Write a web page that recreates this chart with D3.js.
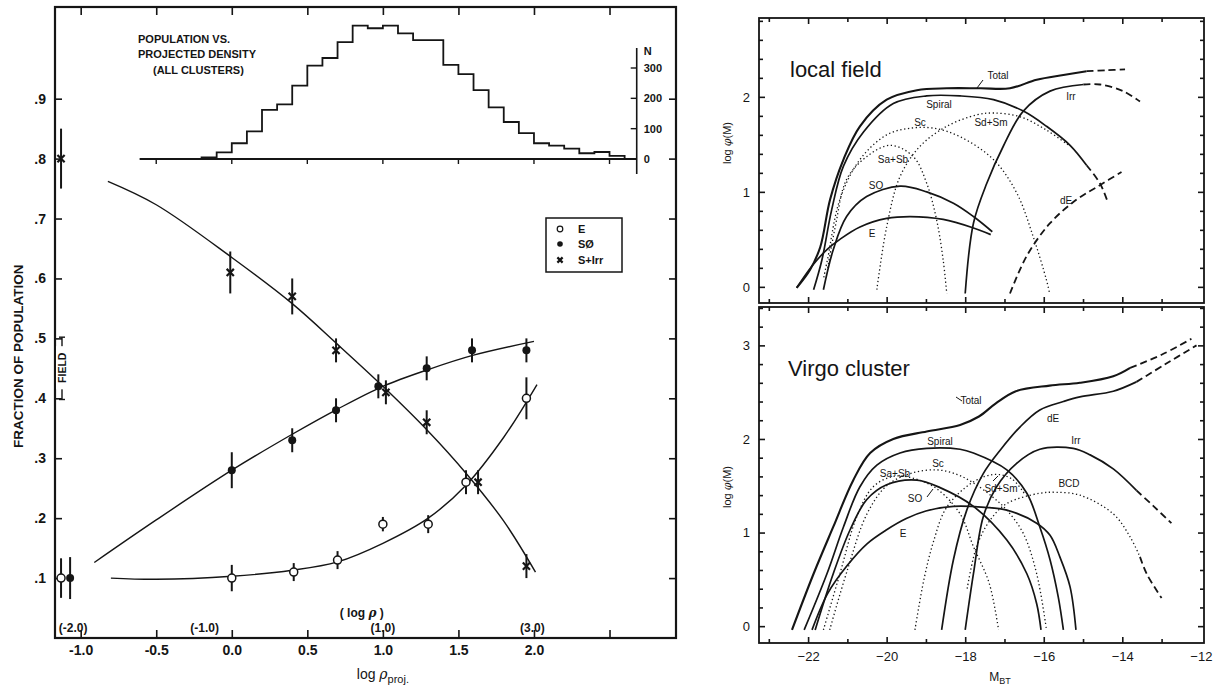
<!DOCTYPE html>
<html><head><meta charset="utf-8">
<script src="https://cdn.jsdelivr.net/npm/d3@7"></script>
<style>body{margin:0;background:#fff}svg{display:block}</style>
</head><body><svg id="c" width="1227" height="693"></svg>
<script>
// ---------------- LEFT CHART DATA ----------------
const xTickVals = [-1.0, -0.5, 0.0, 0.5, 1.0, 1.5, 2.0];
const yTickVals = [0.1, 0.2, 0.3, 0.4, 0.5, 0.6, 0.7, 0.8, 0.9];
const rhoLabels = [["(-2.0)", -1.05], ["(-1.0)", -0.18], ["(1.0)", 1.0], ["(3.0)", 1.99]];

const ptsE_x   = [-1.13, 0.0, 0.41, 0.70, 1.00, 1.30, 1.55, 1.95];
const ptsE_y   = [0.10, 0.10, 0.11, 0.13, 0.19, 0.19, 0.26, 0.40];
const ptsE_err = [0.033, 0.022, 0.015, 0.015, 0.012, 0.015, 0.02, 0.035];

const ptsS0_x   = [-1.07, 0.0, 0.40, 0.69, 0.97, 1.29, 1.59, 1.95];
const ptsS0_y   = [0.10, 0.28, 0.33, 0.38, 0.42, 0.45, 0.48, 0.48];
const ptsS0_err = [0.035, 0.03, 0.02, 0.02, 0.02, 0.02, 0.02, 0.02];

const ptsS_x   = [-1.13, -0.01, 0.40, 0.69, 1.02, 1.29, 1.63, 1.95];
const ptsS_y   = [0.80, 0.61, 0.57, 0.48, 0.41, 0.36, 0.26, 0.12];
const ptsS_err = [0.05, 0.035, 0.03, 0.02, 0.02, 0.02, 0.02, 0.02];

const fitS  = [[-0.82,0.762],[-0.5,0.723],[0,0.635],[0.4,0.558],[0.7,0.49],[1.0,0.42],[1.3,0.345],[1.55,0.275],[1.8,0.195],[2.01,0.11]];
const fitS0 = [[-0.91,0.126],[-0.5,0.197],[0,0.28],[0.4,0.34],[0.7,0.382],[1.0,0.42],[1.3,0.448],[1.6,0.472],[2.0,0.495]];
const fitE  = [[-0.8,0.10],[-0.5,0.098],[0,0.103],[0.4,0.113],[0.7,0.127],[1.0,0.158],[1.3,0.2],[1.55,0.255],[1.8,0.335],[2.02,0.423]];

const histStart = -0.2, histWidth = 0.1;
const histN = [5,22,52,91,162,180,242,308,333,385,440,431,440,414,392,392,310,280,227,170,122,85,52,44,34,19,23,10];
const histTicks = [0, 100, 200, 300];

// ---------------- RIGHT CHART DATA ----------------
const magTicks = [-22, -20, -18, -16, -14, -12];
const magMinor = [-23, -21, -19, -17, -15, -13];

const lfTotal = [[-22.29,-0.01],[-21.95,0.18],[-21.69,0.42],[-21.44,0.92],[-21.1,1.34],[-20.68,1.69],[-20.0,1.97],[-19.23,2.07],[-18.47,2.09],[-17.6,2.09],[-16.86,2.09],[-16.18,2.18],[-15.5,2.23],[-14.91,2.27]];
const lfTotalDash = [[-14.91,2.27],[-14.4,2.28],[-13.93,2.29]];
const lfSpiral = [[-21.86,-0.03],[-21.65,0.28],[-21.4,0.81],[-21.1,1.27],[-20.59,1.63],[-19.83,1.93],[-18.98,2.01],[-18.13,2.01],[-17.28,1.97],[-16.52,1.85],[-15.93,1.69],[-15.33,1.49],[-14.91,1.28]];
const lfSpiralDash = [[-14.91,1.28],[-14.57,1.09],[-14.36,0.88]];
const lfSc = [[-21.6,0.1],[-21.5,0.3],[-21.19,0.92],[-20.68,1.34],[-20.0,1.6],[-19.4,1.67],[-18.8,1.67],[-18.13,1.58],[-17.28,1.34],[-16.69,0.99],[-16.27,0.53],[-15.93,0.07],[-15.85,-0.07]];
const lfSaSb = [[-21.5,0.2],[-21.3,0.65],[-21.02,1.13],[-20.51,1.37],[-19.9,1.49],[-19.32,1.37],[-18.98,1.09],[-18.73,0.71],[-18.56,0.28],[-18.47,-0.07]];
const lfS0 = [[-21.61,-0.03],[-21.36,0.39],[-21.02,0.74],[-20.51,0.95],[-19.66,1.06],[-18.98,1.0],[-18.3,0.88],[-17.79,0.74],[-17.31,0.58]];
const lfE = [[-22.29,-0.01],[-21.9,0.22],[-21.5,0.4],[-21.19,0.5],[-20.68,0.63],[-20.0,0.72],[-19.4,0.74],[-18.56,0.71],[-17.79,0.62],[-17.35,0.55]];
const lfSdSm = [[-20.25,-0.03],[-20.0,0.63],[-19.66,1.16],[-19.15,1.48],[-18.47,1.69],[-17.71,1.81],[-17.28,1.83],[-16.6,1.79],[-15.93,1.65],[-15.33,1.48]];
const lfIrr = [[-18.0,-0.07],[-17.79,0.67],[-17.45,1.09],[-17.03,1.48],[-16.52,1.85],[-15.84,2.06],[-14.99,2.13]];
const lfIrrDash = [[-14.99,2.13],[-14.57,2.13],[-13.98,2.06],[-13.55,1.95]];
const lfdE = [[-16.86,-0.07],[-16.44,0.32],[-15.84,0.67],[-15.16,0.92],[-14.57,1.07],[-14.02,1.21]];

const vTotal = [[-22.41,-0.04],[-21.86,0.56],[-21.36,1.06],[-20.85,1.56],[-20.42,1.85],[-19.83,2.0],[-18.98,2.08],[-18.13,2.15],[-17.65,2.24],[-17.22,2.38],[-16.71,2.51],[-15.85,2.57],[-15.08,2.6],[-14.23,2.67],[-13.8,2.76]];
const vTotalDash = [[-13.8,2.76],[-13.0,2.9],[-12.24,3.07]];
const vSpiral = [[-22.1,-0.04],[-21.52,0.56],[-21.1,1.06],[-20.68,1.49],[-20.25,1.72],[-19.66,1.85],[-18.98,1.9],[-18.13,1.89],[-17.79,1.85],[-16.94,1.67],[-16.43,1.42],[-16.1,1.06],[-15.84,0.71],[-15.63,0.31],[-15.5,-0.04]];
const vSaSb = [[-21.61,-0.04],[-21.19,0.56],[-20.76,1.17],[-20.34,1.49],[-19.83,1.6],[-19.32,1.58],[-18.73,1.47],[-18.13,1.2],[-17.79,0.85],[-17.39,0.46],[-17.15,-0.04]];
const vSc = [[-21.45,-0.04],[-21.0,0.6],[-20.5,1.2],[-20.0,1.5],[-19.4,1.63],[-18.73,1.67],[-18.2,1.62],[-17.79,1.53],[-17.3,1.38],[-16.94,1.24],[-16.52,0.99],[-16.18,0.56],[-15.93,-0.04]];
const vS0 = [[-21.82,-0.04],[-21.36,0.56],[-20.93,1.03],[-20.51,1.35],[-20.0,1.51],[-19.23,1.56],[-18.64,1.48],[-17.79,1.28],[-16.94,0.92],[-16.43,0.56],[-16.18,0.24],[-16.07,-0.04]];
const vE = [[-21.9,-0.04],[-21.5,0.35],[-21.0,0.65],[-20.5,0.88],[-20.0,1.03],[-19.5,1.15],[-19.0,1.23],[-18.3,1.28],[-17.5,1.27],[-16.94,1.24],[-16.18,1.1],[-15.84,0.97],[-15.59,0.74],[-15.33,0.42],[-15.18,-0.04]];
const vSdSm = [[-19.28,-0.04],[-19.05,0.5],[-18.81,0.9],[-18.5,1.25],[-18.0,1.48],[-17.5,1.6],[-17.15,1.62],[-16.8,1.57],[-16.5,1.42]];
const vdE = [[-18.6,-0.04],[-18.3,0.71],[-17.96,1.24],[-17.54,1.63],[-17.11,1.88],[-16.6,2.13],[-16.1,2.31],[-15.5,2.4],[-15.08,2.45],[-14.23,2.51],[-13.64,2.61]];
const vdEDash = [[-13.64,2.61],[-12.9,2.8],[-12.11,3.0]];
const vIrr = [[-18.0,-0.04],[-17.79,0.56],[-17.54,1.17],[-17.2,1.49],[-16.69,1.74],[-16.1,1.89],[-15.25,1.9],[-14.82,1.83],[-14.23,1.68],[-13.64,1.45]];
const vIrrDash = [[-13.64,1.45],[-13.2,1.28],[-12.75,1.1]];
const vBCD = [[-17.95,0.4],[-17.71,0.85],[-17.37,1.13],[-16.94,1.31],[-16.1,1.42],[-15.68,1.43],[-15.08,1.4],[-14.23,1.2],[-13.81,0.96],[-13.55,0.74]];
const vBCDDash = [[-13.55,0.74],[-13.38,0.56],[-13.0,0.3]];

const lfLabels = [["Total",998,79],["Spiral",939,108],["Sc",920,126],["Sd+Sm",991,126],["Irr",1071,100],["Sa+Sb",893,163],["SO",876,189],["E",872,237],["dE",1066,204]];
const vLabels = [["Total",971,404],["Spiral",940,445],["Sc",938,467],["Sa+Sb",895,477],["SO",915,502],["E",903,537],["Sd+Sm",1001,492],["dE",1053,422],["Irr",1076,444],["BCD",1069,487]];

// ---------------- DRAW ----------------
const svg = d3.select("#c");
svg.append("rect").attr("width",1227).attr("height",693).attr("fill","#fff");
const ink = "#151515";
const smooth = d3.curveCatmullRom.alpha(0.5);

// ===== LEFT =====
const L = svg.append("g").attr("font-family","'Liberation Sans', Arial, Helvetica, sans-serif").attr("font-weight","bold").attr("fill",ink);
const xL = d3.scaleLinear().domain([-1.17, 2.94]).range([55, 676]);
const yL = d3.scaleLinear().domain([0, 1.053]).range([638, 7]);

L.append("rect").attr("x",xL(-1.17)).attr("y",yL(1.053)).attr("width",xL(2.94)-xL(-1.17)).attr("height",yL(0)-yL(1.053))
  .attr("fill","none").attr("stroke",ink).attr("stroke-width",2.2);

const ax = (sel) => { sel.select(".domain").remove(); sel.selectAll("line").attr("stroke",ink).attr("stroke-width",1.6); sel.selectAll("text").attr("fill",ink).attr("font-family","'Liberation Sans', Arial, sans-serif").attr("font-weight","bold"); };

L.append("g").attr("transform",`translate(0,${yL(0)})`)
  .call(d3.axisBottom(xL).tickValues(xTickVals.concat([2.5])).tickSize(-8).tickPadding(7).tickFormat(d => d > 2.2 ? "" : d.toFixed(1)))
  .call(ax).selectAll("text").attr("font-size",14);
L.append("g").attr("transform",`translate(0,${yL(1.053)})`)
  .call(d3.axisTop(xL).tickValues(xTickVals.concat([2.5])).tickSize(-8).tickFormat(""))
  .call(ax);
L.append("g").attr("transform",`translate(${xL(-1.17)},0)`)
  .call(d3.axisLeft(yL).tickValues(yTickVals).tickSize(-7).tickPadding(9).tickFormat(d => "." + Math.round(d*10)))
  .call(ax).selectAll("text").attr("font-size",14);
L.append("g").attr("transform",`translate(${xL(2.94)},0)`)
  .call(d3.axisRight(yL).tickValues(yTickVals).tickSize(-7).tickFormat(""))
  .call(ax);

// axis titles
L.append("text").attr("transform",`translate(23,${yL(0.47)}) rotate(-90)`).attr("text-anchor","middle").attr("font-size",13.5).text("FRACTION OF POPULATION");
const xt = L.append("text").attr("x",xL(1.0)).attr("y",679).attr("text-anchor","middle").attr("font-size",14).attr("font-weight","normal");
xt.append("tspan").text("log ");
xt.append("tspan").attr("font-style","italic").attr("font-family","'DejaVu Serif', serif").text("ρ");
xt.append("tspan").attr("dy",4).attr("font-size",11).text("proj.");

rhoLabels.forEach(([t, v]) => L.append("text").attr("x",xL(v)).attr("y",632).attr("text-anchor","middle").attr("font-size",12).text(t));
const lr = L.append("text").attr("x",xL(0.86)).attr("y",617).attr("text-anchor","middle").attr("font-size",12);
lr.append("tspan").text("(   log ");
lr.append("tspan").attr("font-style","italic").attr("font-family","'DejaVu Serif', serif").text("ρ");
lr.append("tspan").text("   )");

// FIELD marker
const fx = 62;
L.append("line").attr("x1",fx).attr("x2",fx).attr("y1",yL(0.502)).attr("y2",yL(0.398)).attr("stroke",ink).attr("stroke-width",1.4);
[0.502, 0.398].forEach(v => L.append("line").attr("x1",fx-3).attr("x2",fx+3).attr("y1",yL(v)).attr("y2",yL(v)).attr("stroke",ink).attr("stroke-width",1.4));
L.append("rect").attr("x",fx-6).attr("y",yL(0.487)).attr("width",12).attr("height",yL(0.415)-yL(0.487)).attr("fill","#fff");
L.append("text").attr("transform",`translate(${fx+4},${yL(0.451)}) rotate(-90)`).attr("text-anchor","middle").attr("font-size",10.5).text("FIELD");

// fitted curves
const lineL = d3.line().x(d => xL(d[0])).y(d => yL(d[1])).curve(smooth);
[fitS, fitS0, fitE].forEach(f => L.append("path").attr("d",lineL(f)).attr("fill","none").attr("stroke",ink).attr("stroke-width",1.4));

// error bars + markers
function errBars(xs, ys, es) {
  xs.forEach((x, i) => L.append("line").attr("x1",xL(x)).attr("x2",xL(x)).attr("y1",yL(ys[i]-es[i])).attr("y2",yL(ys[i]+es[i])).attr("stroke",ink).attr("stroke-width",2));
}
errBars(ptsE_x, ptsE_y, ptsE_err);
errBars(ptsS0_x, ptsS0_y, ptsS0_err);
errBars(ptsS_x, ptsS_y, ptsS_err);
ptsE_x.forEach((x,i) => L.append("circle").attr("cx",xL(x)).attr("cy",yL(ptsE_y[i])).attr("r",4).attr("fill","#fff").attr("stroke",ink).attr("stroke-width",1.5));
ptsS0_x.forEach((x,i) => L.append("circle").attr("cx",xL(x)).attr("cy",yL(ptsS0_y[i])).attr("r",4).attr("fill",ink));
function cross(g, cx, cy, s) {
  g.append("path").attr("d",`M${cx-s},${cy-s}L${cx+s},${cy+s}M${cx+s},${cy-s}L${cx-s},${cy+s}`).attr("stroke",ink).attr("stroke-width",2.2).attr("fill","none");
}
ptsS_x.forEach((x,i) => cross(L, xL(x), yL(ptsS_y[i]), 3.6));

// legend
L.append("rect").attr("x",546).attr("y",218).attr("width",76).attr("height",54).attr("fill","#fff").attr("stroke",ink).attr("stroke-width",1.5);
L.append("circle").attr("cx",560).attr("cy",229).attr("r",2.8).attr("fill","#fff").attr("stroke",ink).attr("stroke-width",1.2);
L.append("circle").attr("cx",560).attr("cy",244).attr("r",2.8).attr("fill",ink);
cross(L, 560, 260, 2.6);
[["E",233],["SØ",248],["S+Irr",264]].forEach(([t,y]) => L.append("text").attr("x",578).attr("y",y).attr("font-size",11).text(t));

// inset histogram
const yN = d3.scaleLinear().domain([0, 300]).range([159, 68]);
L.append("line").attr("x1",xL(-0.61)).attr("x2",xL(2.68)).attr("y1",yN(0)).attr("y2",yN(0)).attr("stroke",ink).attr("stroke-width",1.8);
d3.range(-0.5, 2.51, 0.5).forEach(v => L.append("line").attr("x1",xL(v)).attr("x2",xL(v)).attr("y1",yN(0)).attr("y2",yN(0)+5).attr("stroke",ink).attr("stroke-width",1.4));
const hp = [[histStart, 0]];
histN.forEach((n, i) => { const a = histStart + i*histWidth; hp.push([a, n]); hp.push([a + histWidth, n]); });
hp.push([histStart + histN.length*histWidth, 0]);
L.append("path").attr("d", d3.line().x(d => xL(d[0])).y(d => yN(d[1]))(hp)).attr("fill","none").attr("stroke",ink).attr("stroke-width",1.8);
const nx = xL(2.68);
L.append("line").attr("x1",nx).attr("x2",nx).attr("y1",48).attr("y2",174).attr("stroke",ink).attr("stroke-width",1.6);
histTicks.forEach(t => {
  L.append("line").attr("x1",nx-6).attr("x2",nx).attr("y1",yN(t)).attr("y2",yN(t)).attr("stroke",ink).attr("stroke-width",1.4);
  L.append("text").attr("x",nx+7).attr("y",yN(t)+4).attr("font-size",11).text(t);
});
L.append("text").attr("x",nx+7).attr("y",55).attr("font-size",11).text("N");
[["POPULATION VS.",138,43],["PROJECTED DENSITY",138,58],["(ALL CLUSTERS)",153,74]].forEach(([t,x,y]) =>
  L.append("text").attr("x",x).attr("y",y).attr("font-size",11).text(t));

// ===== RIGHT =====
const R = svg.append("g").attr("font-family","'Liberation Sans', Arial, Helvetica, sans-serif").attr("fill",ink);
const xR = d3.scaleLinear().domain([-23.25, -11.92]).range([759, 1204]);
const yTop = d3.scaleLinear().domain([-0.17, 2.83]).range([303, 18]);
const yBot = d3.scaleLinear().domain([-0.18, 3.41]).range([643, 307]);

function panel(ys, ymax, labels, yLabelY) {
  const [y0, y1] = ys.range();
  R.append("rect").attr("x",759).attr("y",y1).attr("width",445).attr("height",y0-y1).attr("fill","none").attr("stroke",ink).attr("stroke-width",1.8);
  const minor = d3.range(0, ymax+0.001, 0.2).filter(v => Math.abs(v - Math.round(v)) > 0.05);
  const major = d3.range(0, Math.floor(ymax)+1);
  R.append("g").attr("transform","translate(759,0)").call(d3.axisLeft(ys).tickValues(major).tickSize(-6).tickPadding(9).tickFormat(d3.format("d"))).call(ax)
    .selectAll("text").attr("font-weight","normal").attr("font-size",13);
  R.append("g").attr("transform","translate(759,0)").call(d3.axisLeft(ys).tickValues(minor).tickSize(-4).tickFormat("")).call(ax);
  R.append("g").attr("transform","translate(1204,0)").call(d3.axisRight(ys).tickValues(major).tickSize(-6).tickFormat("")).call(ax);
  R.append("g").attr("transform","translate(1204,0)").call(d3.axisRight(ys).tickValues(minor).tickSize(-4).tickFormat("")).call(ax);
  R.append("g").attr("transform",`translate(0,${y0})`).call(d3.axisBottom(xR).tickValues(magTicks.slice(0,5)).tickSize(-6).tickFormat("")).call(ax);
  R.append("g").attr("transform",`translate(0,${y0})`).call(d3.axisBottom(xR).tickValues(magMinor).tickSize(-4).tickFormat("")).call(ax);
  R.append("g").attr("transform",`translate(0,${y1})`).call(d3.axisTop(xR).tickValues(magTicks.slice(0,5)).tickSize(-6).tickFormat("")).call(ax);
  R.append("g").attr("transform",`translate(0,${y1})`).call(d3.axisTop(xR).tickValues(magMinor).tickSize(-4).tickFormat("")).call(ax);
  const t = R.append("text").attr("transform",`translate(731,${yLabelY}) rotate(-90)`).attr("text-anchor","middle").attr("font-size",11);
  t.append("tspan").text("log ");
  t.append("tspan").attr("font-style","italic").attr("font-family","'DejaVu Serif', serif").text("φ");
  t.append("tspan").text("(M)");
  labels.forEach(([s,x,y]) => R.append("text").attr("x",x).attr("y",y).attr("text-anchor","middle").attr("font-size",10).text(s));
}
panel(yTop, 2.83, lfLabels, 143);
panel(yBot, 3.41, vLabels, 487);

R.append("g").attr("transform","translate(0,643)")
  .call(d3.axisBottom(xR).tickValues(magTicks).tickSize(0).tickPadding(9).tickFormat(d => "−" + Math.abs(d)))
  .call(ax).selectAll("text").attr("font-weight","normal").attr("font-size",13);
const mt = R.append("text").attr("x",1000).attr("y",681).attr("text-anchor","middle").attr("font-size",12);
mt.append("tspan").text("M");
mt.append("tspan").attr("dy",3).attr("font-size",9).text("BT");

R.append("text").attr("x",790).attr("y",77).attr("font-size",22).text("local field");
R.append("text").attr("x",788).attr("y",376).attr("font-size",22).text("Virgo cluster");

function curve(ys, data, style) {
  const ln = d3.line().x(d => xR(d[0])).y(d => ys(d[1])).curve(smooth);
  const p = R.append("path").attr("d",ln(data)).attr("fill","none").attr("stroke",ink);
  if (style === "solid") p.attr("stroke-width",1.7);
  if (style === "thick") p.attr("stroke-width",2.1);
  if (style === "dot") p.attr("stroke-width",1.3).attr("stroke-dasharray","1.3,2.6");
  if (style === "dash") p.attr("stroke-width",1.8).attr("stroke-dasharray","7,4");
}
// local field
curve(yTop, lfTotal, "thick"); curve(yTop, lfTotalDash, "dash");
curve(yTop, lfSpiral, "solid"); curve(yTop, lfSpiralDash, "dash");
curve(yTop, lfSc, "dot"); curve(yTop, lfSaSb, "dot"); curve(yTop, lfSdSm, "dot");
curve(yTop, lfS0, "solid"); curve(yTop, lfE, "solid");
curve(yTop, lfIrr, "solid"); curve(yTop, lfIrrDash, "dash");
curve(yTop, lfdE, "dash");
// virgo
curve(yBot, vTotal, "thick"); curve(yBot, vTotalDash, "dash");
curve(yBot, vSpiral, "solid");
curve(yBot, vSaSb, "dot"); curve(yBot, vSc, "dot"); curve(yBot, vSdSm, "dot");
curve(yBot, vS0, "solid"); curve(yBot, vE, "solid");
curve(yBot, vdE, "solid"); curve(yBot, vdEDash, "dash");
curve(yBot, vIrr, "solid"); curve(yBot, vIrrDash, "dash");
curve(yBot, vBCD, "dot"); curve(yBot, vBCDDash, "dash");

// leader lines
[[977,88,983,80],[962,401,956,397],[927,497,933,489],[993,481,998,476]].forEach(([a,b,c,d]) =>
  R.append("line").attr("x1",a).attr("y1",b).attr("x2",c).attr("y2",d).attr("stroke",ink).attr("stroke-width",1));
</script></body></html>
